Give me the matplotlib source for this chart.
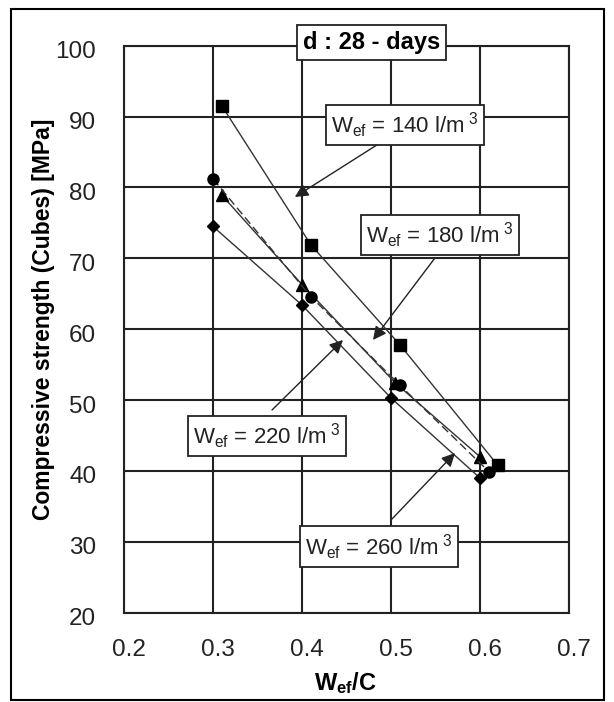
import matplotlib
matplotlib.use("Agg")
import matplotlib.pyplot as plt
from matplotlib.patches import Rectangle
import matplotlib.transforms as mtrans

plt.rcParams['font.family'] = ['Liberation Sans', 'DejaVu Sans']
plt.rcParams['mathtext.fontset'] = 'custom'
plt.rcParams['mathtext.rm'] = 'Liberation Sans'
plt.rcParams['mathtext.it'] = 'Liberation Sans'
plt.rcParams['mathtext.bf'] = 'Liberation Sans:bold'

# data
x_140 = [0.31, 0.41, 0.51, 0.62]
y_140 = [91.5, 71.9, 57.8, 40.8]
x_180 = [0.30, 0.41, 0.51, 0.61]
y_180 = [81.2, 64.6, 52.1, 39.9]
x_220 = [0.31, 0.40, 0.505, 0.60]
y_220 = [78.9, 66.3, 52.4, 42.0]
x_260 = [0.30, 0.40, 0.50, 0.60]
y_260 = [74.5, 63.4, 50.3, 39.0]

xticks = [0.2, 0.3, 0.4, 0.5, 0.6, 0.7]
yticks = [20, 30, 40, 50, 60, 70, 80, 90, 100]

fig = plt.figure(figsize=(6.14, 7.02), dpi=100)
ax = fig.add_axes([124/614, 1-612.7/702, 445/614, 567/702])

lc = '#333333'
ax.plot(x_140, y_140, color=lc, lw=1.0, marker='s', ms=8, mfc='black', mec='black', zorder=3)
ax.plot(x_220, y_220, color=lc, lw=1.0, marker='^', ms=8, mfc='black', mec='black', zorder=3)
ax.plot(x_260, y_260, color=lc, lw=1.0, marker='D', ms=6.5, mfc='black', mec='black', zorder=3)
ax.plot(x_180, y_180, color=lc, lw=1.0, ls=(0, (6, 3)), marker='o', ms=8, mfc='black', mec='black', zorder=3)

ax.set_xlim(0.2, 0.7)
ax.set_ylim(20, 100)
ax.set_xticks(xticks)
ax.set_yticks(yticks)
ax.set_xticklabels([f'{v:.1f}' for v in xticks])
ax.set_yticklabels([str(v) for v in yticks])
ax.grid(True, color='#222222', lw=1.5)
ax.set_axisbelow(True)
for s in ax.spines.values():
    s.set_linewidth(1.5)
    s.set_color('#222222')
ax.tick_params(axis='both', length=0, labelsize=17.5, colors='#222222')
ax.tick_params(axis='x', pad=19)
ax.tick_params(axis='y', pad=20)
for lbl in ax.get_xticklabels():
    lbl.set_transform(lbl.get_transform() + mtrans.ScaledTranslation(5/100, 0, fig.dpi_scale_trans))
for lbl in ax.get_yticklabels():
    lbl.set_transform(lbl.get_transform() + mtrans.ScaledTranslation(0, -4/100, fig.dpi_scale_trans))

ax.set_ylabel('Compressive strength (Cubes) [MPa]', fontsize=16.5, fontweight='bold')
ax.yaxis.set_label_coords(-0.182, 0.518)
ax.yaxis.label.set_va('center')
ax.set_xlabel(r'$\mathbf{W_{ef}}$/C', fontsize=17, fontweight='bold')
ax.xaxis.set_label_coords(0.498, -0.124)
ax.xaxis.label.set_va('center')

box = dict(boxstyle='square,pad=0.25', fc='white', ec='#222222', lw=1.3)
ax.text(0.478, 100.4, 'd : 28 - days', fontsize=17, fontweight='bold', ha='center', va='center',
        bbox=box, zorder=5, clip_on=False)

labels = [
    (r'W$_{\rm ef}$ = 140 l/m$^{\ 3}$', (0.5157, 88.8), (0.4876, 86.27), (0.392, 78.65)),
    (r'W$_{\rm ef}$ = 180 l/m$^{\ 3}$', (0.555, 73.3), (0.5494, 70.05), (0.4798, 58.48)),
    (r'W$_{\rm ef}$ = 220 l/m$^{\ 3}$', (0.3607, 44.94), (0.3663, 48.6), (0.446, 58.48)),
    (r'W$_{\rm ef}$ = 260 l/m$^{\ 3}$', (0.4865, 29.3), (0.5011, 33.22), (0.5719, 42.53)),
]
for txt, pos, tail, tip in labels:
    ax.annotate('', xy=tip, xytext=tail,
                arrowprops=dict(arrowstyle='-|>', color='#222222', lw=1.0, mutation_scale=20,
                                shrinkA=0, shrinkB=0), zorder=4)
    ax.text(pos[0], pos[1], txt, fontsize=16, ha='center', va='center', color='#222222',
            bbox=dict(boxstyle='square,pad=0.25', fc='white', ec='#222222', lw=1.3), zorder=5)

fig.patches.append(Rectangle((11/614, 1-700/702), 593/614, 691/702, transform=fig.transFigure,
                             fill=False, ec='black', lw=1.5))

fig.savefig('out.png', dpi=100)
